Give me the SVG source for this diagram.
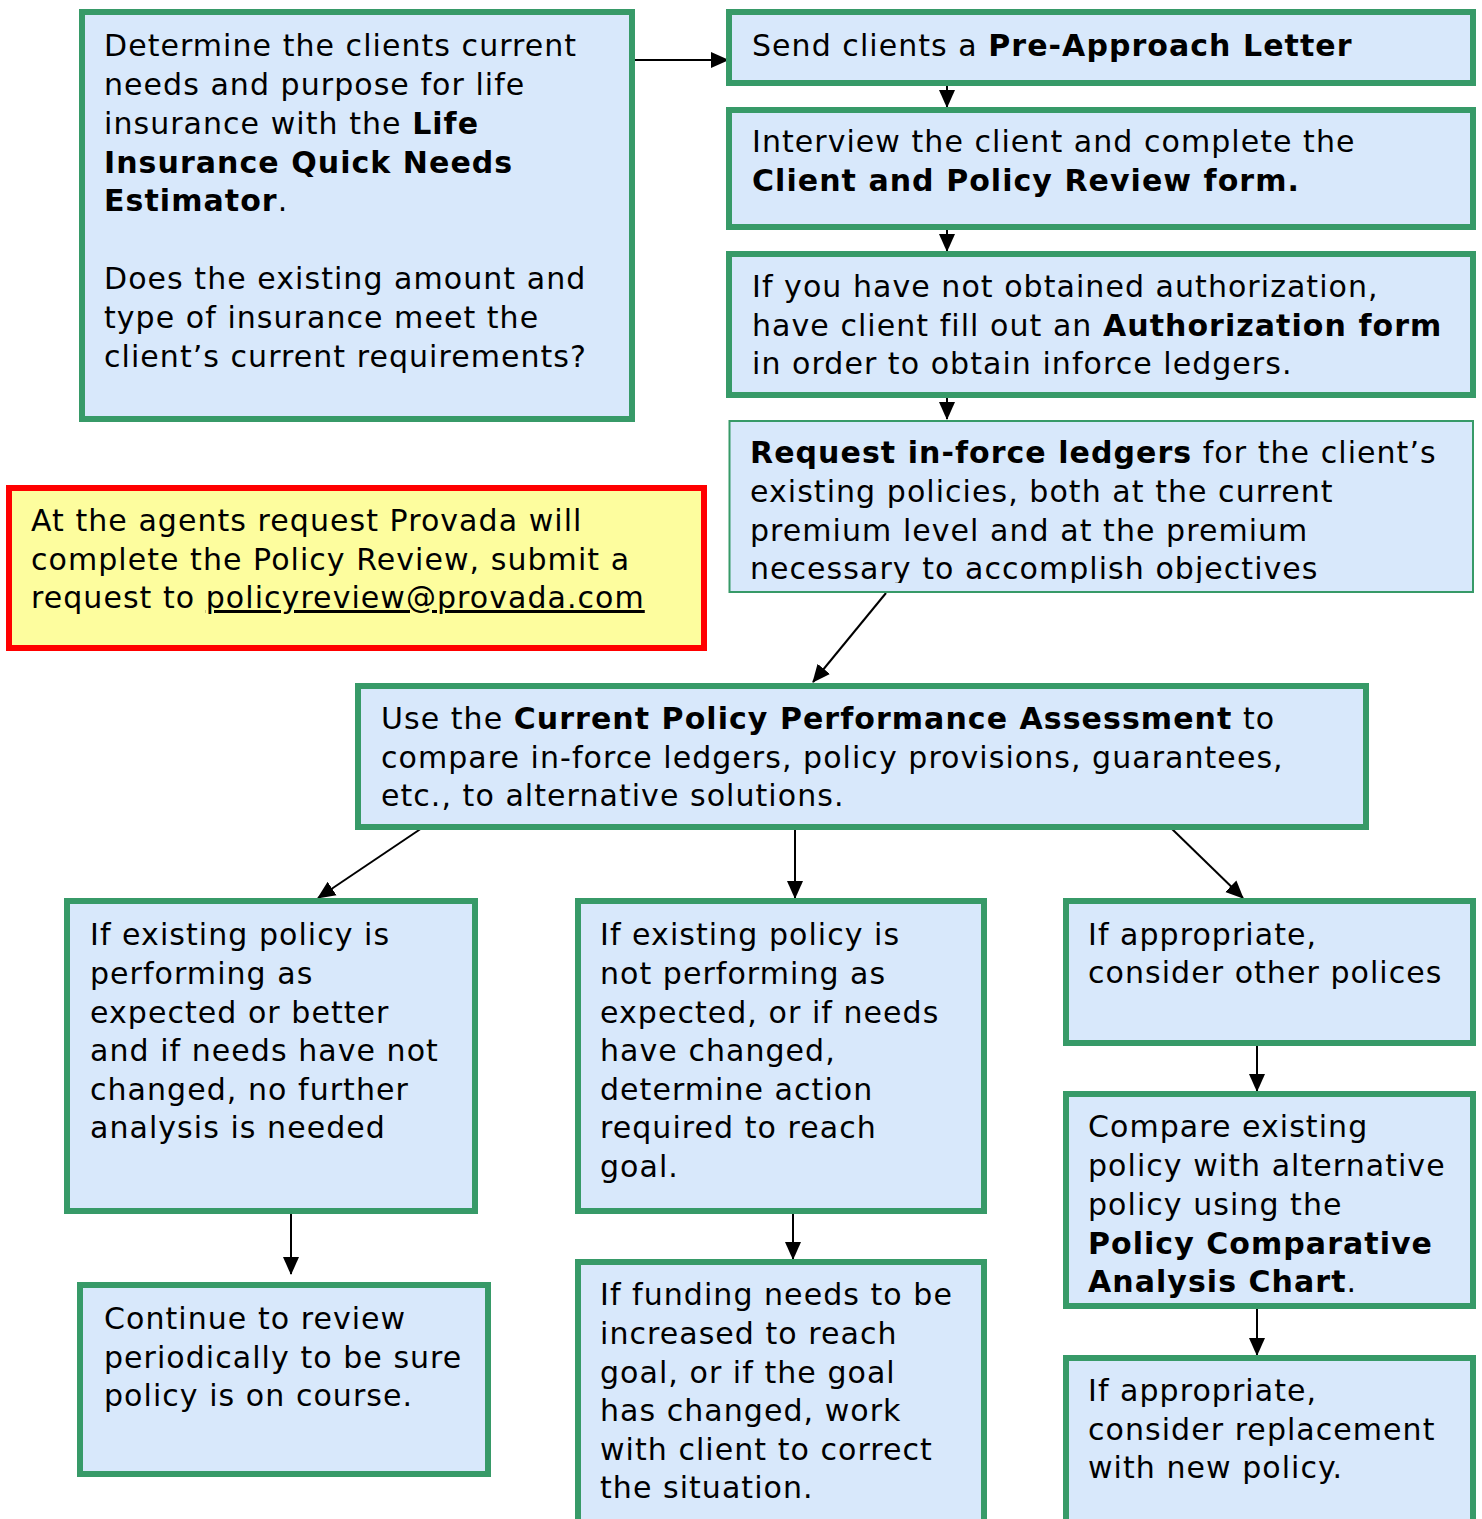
<svg xmlns="http://www.w3.org/2000/svg" width="1482" height="1519" viewBox="0 0 1482 1519">
<style>
.box{fill:#d8e8fb;stroke:#379a68;stroke-width:6}
.thin{stroke-width:2}
.note{fill:#fdfd9e;stroke:#ff0000;stroke-width:6}
text{font-family:"DejaVu Sans","Liberation Sans",sans-serif;font-size:30px;fill:#000;letter-spacing:1.05px}
.b{font-weight:bold}
.con{stroke:#000;stroke-width:2;fill:none;marker-end:url(#ah)}
</style>
<defs>
<marker id="ah" markerUnits="userSpaceOnUse" markerWidth="18" markerHeight="18" viewBox="0 0 18 18" refX="17" refY="9" orient="auto">
<path d="M0,1 L18,9 L0,17 Z" fill="#000"/>
</marker>
<clipPath id="clipReq"><rect x="729" y="421" width="745" height="162"/></clipPath>
</defs>
<rect width="1482" height="1519" fill="#fff"/>
<g id="connectors">
<line class="con" x1="635" y1="60" x2="728" y2="60"/>
<line class="con" x1="947" y1="86" x2="947" y2="107"/>
<line class="con" x1="947" y1="230" x2="947" y2="251"/>
<line class="con" x1="947" y1="398" x2="947" y2="419"/>
<line class="con" x1="886" y1="593" x2="813" y2="682"/>
<line class="con" x1="422" y1="828" x2="318" y2="898"/>
<line class="con" x1="795" y1="828" x2="795" y2="898"/>
<line class="con" x1="1171" y1="828" x2="1243" y2="898"/>
<line class="con" x1="1257" y1="1045" x2="1257" y2="1091"/>
<line class="con" x1="1257" y1="1308" x2="1257" y2="1355"/>
<line class="con" x1="291" y1="1213" x2="291" y2="1274"/>
<line class="con" x1="793" y1="1213" x2="793" y2="1259"/>
</g>
<g id="n-determine">
<rect class="box" x="82" y="12" width="550" height="407"/>
<text x="104" y="56">Determine the clients current</text>
<text x="104" y="95">needs and purpose for life</text>
<text x="104" y="134">insurance with the <tspan class="b">Life</tspan></text>
<text x="104" y="173" class="b">Insurance Quick Needs</text>
<text x="104" y="211"><tspan class="b">Estimator</tspan>.</text>
<text x="104" y="289">Does the existing amount and</text>
<text x="104" y="328">type of insurance meet the</text>
<text x="104" y="367">client’s current requirements?</text>
</g>
<g id="n-send">
<rect class="box" x="729" y="12" width="744" height="71"/>
<text x="752" y="56">Send clients a <tspan class="b">Pre-Approach Letter</tspan></text>
</g>
<g id="n-interview">
<rect class="box" x="729" y="110" width="744" height="117"/>
<text x="752" y="152">Interview the client and complete the</text>
<text x="752" y="191" class="b">Client and Policy Review form.</text>
</g>
<g id="n-auth">
<rect class="box" x="729" y="254" width="744" height="141"/>
<text x="752" y="297">If you have not obtained authorization,</text>
<text x="752" y="336">have client fill out an <tspan class="b">Authorization form</tspan></text>
<text x="752" y="374">in order to obtain inforce ledgers.</text>
</g>
<g id="n-request">
<rect class="box thin" x="729.5" y="421" width="743.5" height="171"/>
<g clip-path="url(#clipReq)">
<text x="750" y="463"><tspan class="b">Request in-force ledgers</tspan> for the client’s</text>
<text x="750" y="502">existing policies, both at the current</text>
<text x="750" y="541">premium level and at the premium</text>
<text x="750" y="579">necessary to accomplish objectives</text>
</g>
</g>
<g id="n-note">
<rect class="note" x="9" y="488" width="695" height="160"/>
<text x="31" y="531">At the agents request Provada will</text>
<text x="31" y="570">complete the Policy Review, submit a</text>
<text x="31" y="608">request to <tspan text-decoration="underline">policyreview@provada.com</tspan></text>
</g>
<g id="n-assess">
<rect class="box" x="358" y="686" width="1008" height="141"/>
<text x="381" y="729">Use the <tspan class="b">Current Policy Performance Assessment</tspan> to</text>
<text x="381" y="768">compare in-force ledgers, policy provisions, guarantees,</text>
<text x="381" y="806">etc., to alternative solutions.</text>
</g>
<g id="n-performing">
<rect class="box" x="67" y="901" width="408" height="310"/>
<text x="90" y="945">If existing policy is</text>
<text x="90" y="984">performing as</text>
<text x="90" y="1023">expected or better</text>
<text x="90" y="1061">and if needs have not</text>
<text x="90" y="1100">changed, no further</text>
<text x="90" y="1138">analysis is needed</text>
</g>
<g id="n-notperforming">
<rect class="box" x="578" y="901" width="406" height="310"/>
<text x="600" y="945">If existing policy is</text>
<text x="600" y="984">not performing as</text>
<text x="600" y="1023">expected, or if needs</text>
<text x="600" y="1061">have changed,</text>
<text x="600" y="1100">determine action</text>
<text x="600" y="1138">required to reach</text>
<text x="600" y="1177">goal.</text>
</g>
<g id="n-other">
<rect class="box" x="1066" y="901" width="407" height="142"/>
<text x="1088" y="945">If appropriate,</text>
<text x="1088" y="983">consider other polices</text>
</g>
<g id="n-compare">
<rect class="box" x="1066" y="1094" width="407" height="212"/>
<text x="1088" y="1137">Compare existing</text>
<text x="1088" y="1176">policy with alternative</text>
<text x="1088" y="1215">policy using the</text>
<text x="1088" y="1254" class="b">Policy Comparative</text>
<text x="1088" y="1292"><tspan class="b">Analysis Chart</tspan>.</text>
</g>
<g id="n-replace">
<rect class="box" x="1066" y="1358" width="407" height="180"/>
<text x="1088" y="1401">If appropriate,</text>
<text x="1088" y="1440">consider replacement</text>
<text x="1088" y="1478">with new policy.</text>
</g>
<g id="n-continue">
<rect class="box" x="80" y="1285" width="408" height="189"/>
<text x="104" y="1329">Continue to review</text>
<text x="104" y="1368">periodically to be sure</text>
<text x="104" y="1406">policy is on course.</text>
</g>
<g id="n-funding">
<rect class="box" x="578" y="1262" width="406" height="280"/>
<text x="600" y="1305">If funding needs to be</text>
<text x="600" y="1344">increased to reach</text>
<text x="600" y="1383">goal, or if the goal</text>
<text x="600" y="1421">has changed, work</text>
<text x="600" y="1460">with client to correct</text>
<text x="600" y="1498">the situation.</text>
</g>
</svg>
